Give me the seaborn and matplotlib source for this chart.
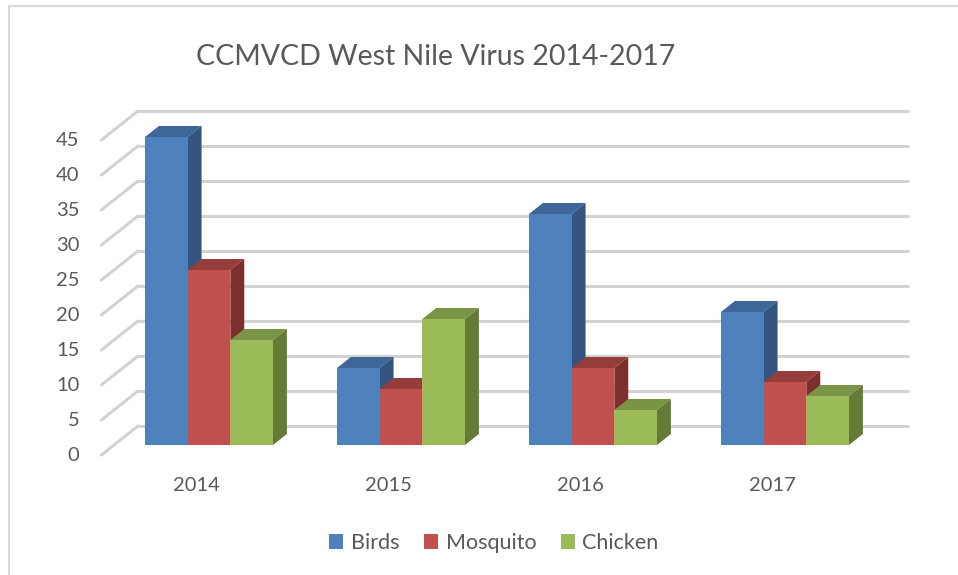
import numpy as np
import pandas as pd
import matplotlib
matplotlib.use("Agg")
import matplotlib.pyplot as plt
import seaborn as sns
from matplotlib.patches import Polygon, Patch
from matplotlib.lines import Line2D

# ---------------- data ----------------
years = ["2014", "2015", "2016", "2017"]
series = ["Birds", "Mosquito", "Chicken"]
birds = [44, 11, 33, 19]
mosquito = [25, 8, 11, 9]
chicken = [15, 18, 5, 7]
y_ticks = [0, 5, 10, 15, 20, 25, 30, 35, 40, 45]
title = "CCMVCD West Nile Virus 2014-2017"

front_colors = ["#4F81BD", "#C0504D", "#9BBB59"]
top_colors = ["#3F6698", "#943D3B", "#7A9445"]
side_colors = ["#33557F", "#7C2F2D", "#647B36"]
text_color = "#595959"
grid_color = "#D2D2D2"

W, H = 958, 575
sns.set_theme(style="white")
plt.rcParams["font.family"] = ["Lato", "DejaVu Sans"]

fig = plt.figure(figsize=(W / 100, H / 100), dpi=100)
ax = fig.add_axes([0, 0, 1, 1])

df = pd.DataFrame({
    "Year": years * 3,
    "Series": [s for s in series for _ in years],
    "Count": birds + mosquito + chicken,
})

# layout in pixels: category 0 center / px per category ; value 0 / px per unit
X0, XS = 209.0, 192.0
Y0, YS = 445.0, 7.0
sns.barplot(data=df, x="Year", y="Count", hue="Series", order=years,
            hue_order=series, palette=front_colors, saturation=1,
            width=128 / XS, errorbar=None, legend=False, ax=ax,
            edgecolor="none", linewidth=0)
ax.set_xlim(-X0 / XS, (W - X0) / XS)
ax.set_ylim(-(H - Y0) / YS, Y0 / YS)
ax.axis("off")


def px2d(dx, dy):
    """pixel offset (dy downward) -> data offset"""
    return dx / XS, -dy / YS


FLOOR = (36.6, -29.0)      # full floor depth vector in pixels
T_FRONT, T_BAR = 0.345, 0.38


def depth(t):
    return px2d((t - T_FRONT) * FLOOR[0], (t - T_FRONT) * FLOOR[1])


wall_left, wall_right = (114 - X0) / XS, (884 - X0) / XS
fo = depth(0.0)
bo = depth(1.0)

# back wall gridlines and left wall diagonals
for v in y_ticks:
    ax.add_line(Line2D([wall_left + bo[0], wall_right + bo[0]], [v + bo[1], v + bo[1]],
                       color=grid_color, lw=2.2, zorder=1, solid_capstyle="round"))
    ax.add_line(Line2D([wall_left + fo[0], wall_left + bo[0]], [v + fo[1], v + bo[1]],
                       color=grid_color, lw=2.2, zorder=1, solid_capstyle="round"))
    ax.text(wall_left + fo[0] - 22 / XS, v + fo[1], str(v), ha="right", va="center",
            fontsize=14.5, color=text_color)

# 3-D faces of bars
bdx, bdy = px2d(T_BAR * FLOOR[0], T_BAR * FLOOR[1])
bars = sorted(ax.patches, key=lambda p: p.get_x())
for k, p in enumerate(bars):
    x, w, h = p.get_x(), p.get_width(), p.get_height()
    c = x + w / 2
    idx = int(round((c - round(c)) / w)) + 1
    base = 10 + 3 * k
    top = Polygon([(x, h), (x + w, h), (x + w + bdx, h + bdy), (x + bdx, h + bdy)],
                  closed=True, facecolor=top_colors[idx], edgecolor="none", zorder=base)
    side = Polygon([(x + w, 0), (x + w, h), (x + w + bdx, h + bdy), (x + w + bdx, bdy)],
                   closed=True, facecolor=side_colors[idx], edgecolor="none", zorder=base)
    ax.add_patch(top)
    ax.add_patch(side)
    p.set_zorder(base + 1)

# category labels
for i, yr in enumerate(years):
    ax.text(i + fo[0], fo[1] - 30 / YS, yr, ha="center", va="center",
            fontsize=14.5, color=text_color)

# title
fig.text(436 / W, 1 - 57 / H, title, ha="center", va="center",
         fontsize=20.5, color=text_color)

# legend
handles = [Patch(facecolor=c, edgecolor="none") for c in front_colors]
fig.legend(handles, series, loc="center", bbox_to_anchor=(494 / W, 1 - 543 / H),
           ncol=3, frameon=False, fontsize=15.5, handlelength=0.65, handleheight=0.65,
           handletextpad=0.35, columnspacing=1.15, labelcolor=text_color)

# chart border (left and top visible)
fig.add_artist(Line2D([8.5 / W, 8.5 / W], [0, 1 - 5.5 / H], transform=fig.transFigure,
                      color="#D9D9D9", lw=1.5))
fig.add_artist(Line2D([8.5 / W, 1], [1 - 5.5 / H, 1 - 5.5 / H], transform=fig.transFigure,
                      color="#D9D9D9", lw=1.5))

fig.savefig("out.png", dpi=100)
